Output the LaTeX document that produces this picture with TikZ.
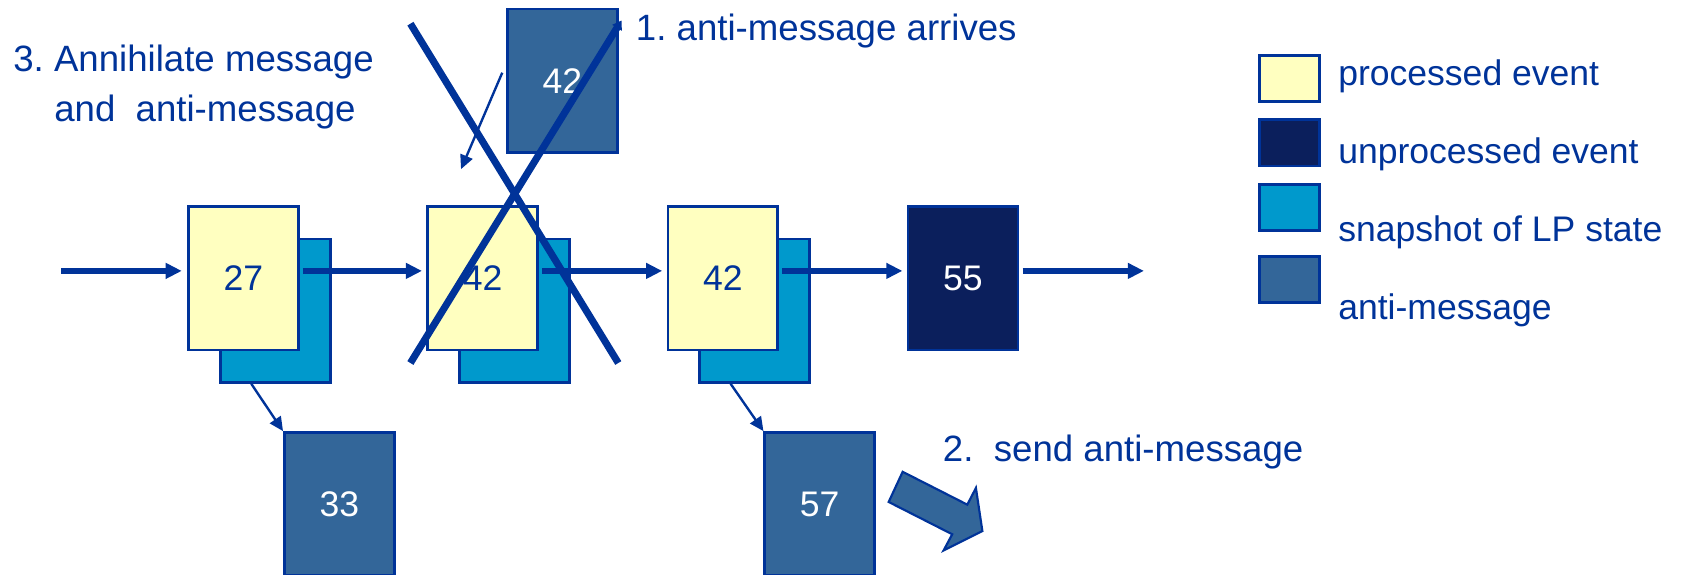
\documentclass[tikz,border=0pt]{standalone}
\usepackage{fontspec}
\setmainfont{Liberation Sans}
\usetikzlibrary{arrows.meta}
\definecolor{lineblue}{HTML}{003399}
\definecolor{evyellow}{HTML}{FFFFC0}
\definecolor{evnavy}{HTML}{0B1F5C}
\definecolor{snapcyan}{HTML}{0099CC}
\definecolor{antiblue}{HTML}{336699}
\frenchspacing
\begin{document}
\begin{tikzpicture}[x=0.5pt,y=-0.5pt,
  every node/.style={font=\fontsize{16.5}{23.5}\selectfont},
  card/.style={rectangle,draw=lineblue,line width=1.25pt,inner sep=0pt,
    minimum width=51pt,minimum height=66.5pt},
  done/.style={card,fill=evyellow,text=lineblue},
  todo/.style={card,fill=evnavy,text=white},
  snap/.style={card,fill=snapcyan},
  anti/.style={card,fill=antiblue,text=white},
  key/.style={rectangle,draw=lineblue,line width=1.25pt,inner sep=0pt,
    minimum width=28pt,minimum height=21.5pt},
  note/.style={anchor=base west,inner sep=0pt,text=lineblue,align=left},
  step note/.style={note,font=\fontsize{17}{23.5}\selectfont\frenchspacing},
  flow/.style={draw=lineblue,line width=2.5pt,-{Triangle[length=7.5pt,width=7pt]}},
  send/.style={draw=lineblue,line width=1.1pt,-{Triangle[length=6.5pt,width=6pt]}},
  cross/.style={draw=lineblue,line width=3.3pt}]
\useasboundingbox (0,0) rectangle (1568,533);
\node[step note] (annihilate) at (12,113) {3. Annihilate message\\\hspace*{19pt}and\ \ anti-message};
\node[step note] (arrives) at (590,38) {1. anti-message arrives};
\node[step note] (sendtxt) at (875,428) {2.\ \ send anti-message};
\node[anti] (am42) at (522,75) {42};
\node[snap] (snap27) at (255.5,288.5) {};
\node[done] (ev27) at (226,258.5) {27};
\node[snap] (snap42a) at (477.5,288.5) {};
\node[done] (ev42a) at (448,258.5) {42};
\node[snap] (snap42b) at (700.5,288.5) {};
\node[done] (ev42b) at (671,258.5) {42};
\node[todo] (ev55) at (894,258.5) {55};
\node[anti] (am33) at (315,468) {33};
\node[anti] (am57) at (761,468) {57};
\coordinate (in) at (57,251.5);
\coordinate (out) at (1062,251.5);
\coordinate (drop) at (428,157);
\draw[flow,shorten >=2.5pt] (in) -- ([yshift=3.5pt]ev27.west);
\draw[flow,shorten <=1.5pt,shorten >=2pt] ([yshift=3.5pt]ev27.east) -- ([yshift=3.5pt]ev42a.west);
\draw[flow,shorten <=1.5pt,shorten >=2pt] ([yshift=3.5pt]ev42a.east) -- ([yshift=3.5pt]ev42b.west);
\draw[flow,shorten <=1.5pt,shorten >=2pt] ([yshift=3.5pt]ev42b.east) -- ([yshift=3.5pt]ev55.west);
\draw[flow,shorten <=1.5pt] ([yshift=3.5pt]ev55.east) -- (out);
\draw[send] ([xshift=15pt]snap27.south west) -- (am33.north west);
\draw[send] ([xshift=15pt]snap42b.south west) -- (am57.north west);
\draw[send] ([shift={(-3.5,-7.5)}]am42.west) -- (drop);
\draw[cross] (381,22) -- (574,337);
\draw[cross,-{Triangle[length=4pt,width=5pt]}] (381,337) -- (577,19);
\draw[draw=lineblue,fill=antiblue,line width=1pt,line join=miter]
  (838,438) -- (898,468.5) -- (906,453) -- (912,493) -- (876,511)
  -- (884,496) -- (825,466) -- cycle;
\node[key,fill=evyellow] (kdone) at (1197,73) {};
\node[key,fill=evnavy] (ktodo) at (1197,132.5) {};
\node[key,fill=snapcyan] (ksnap) at (1197,192.5) {};
\node[key,fill=antiblue] (kanti) at (1197,259.5) {};
\node[note] (tdone) at (1242,79) {processed event};
\node[note] (ttodo) at (1242,151.5) {unprocessed event};
\node[note] (tsnap) at (1242,224.5) {snapshot of LP state};
\node[note] (tanti) at (1242,297) {anti-message};
\end{tikzpicture}
\end{document}
